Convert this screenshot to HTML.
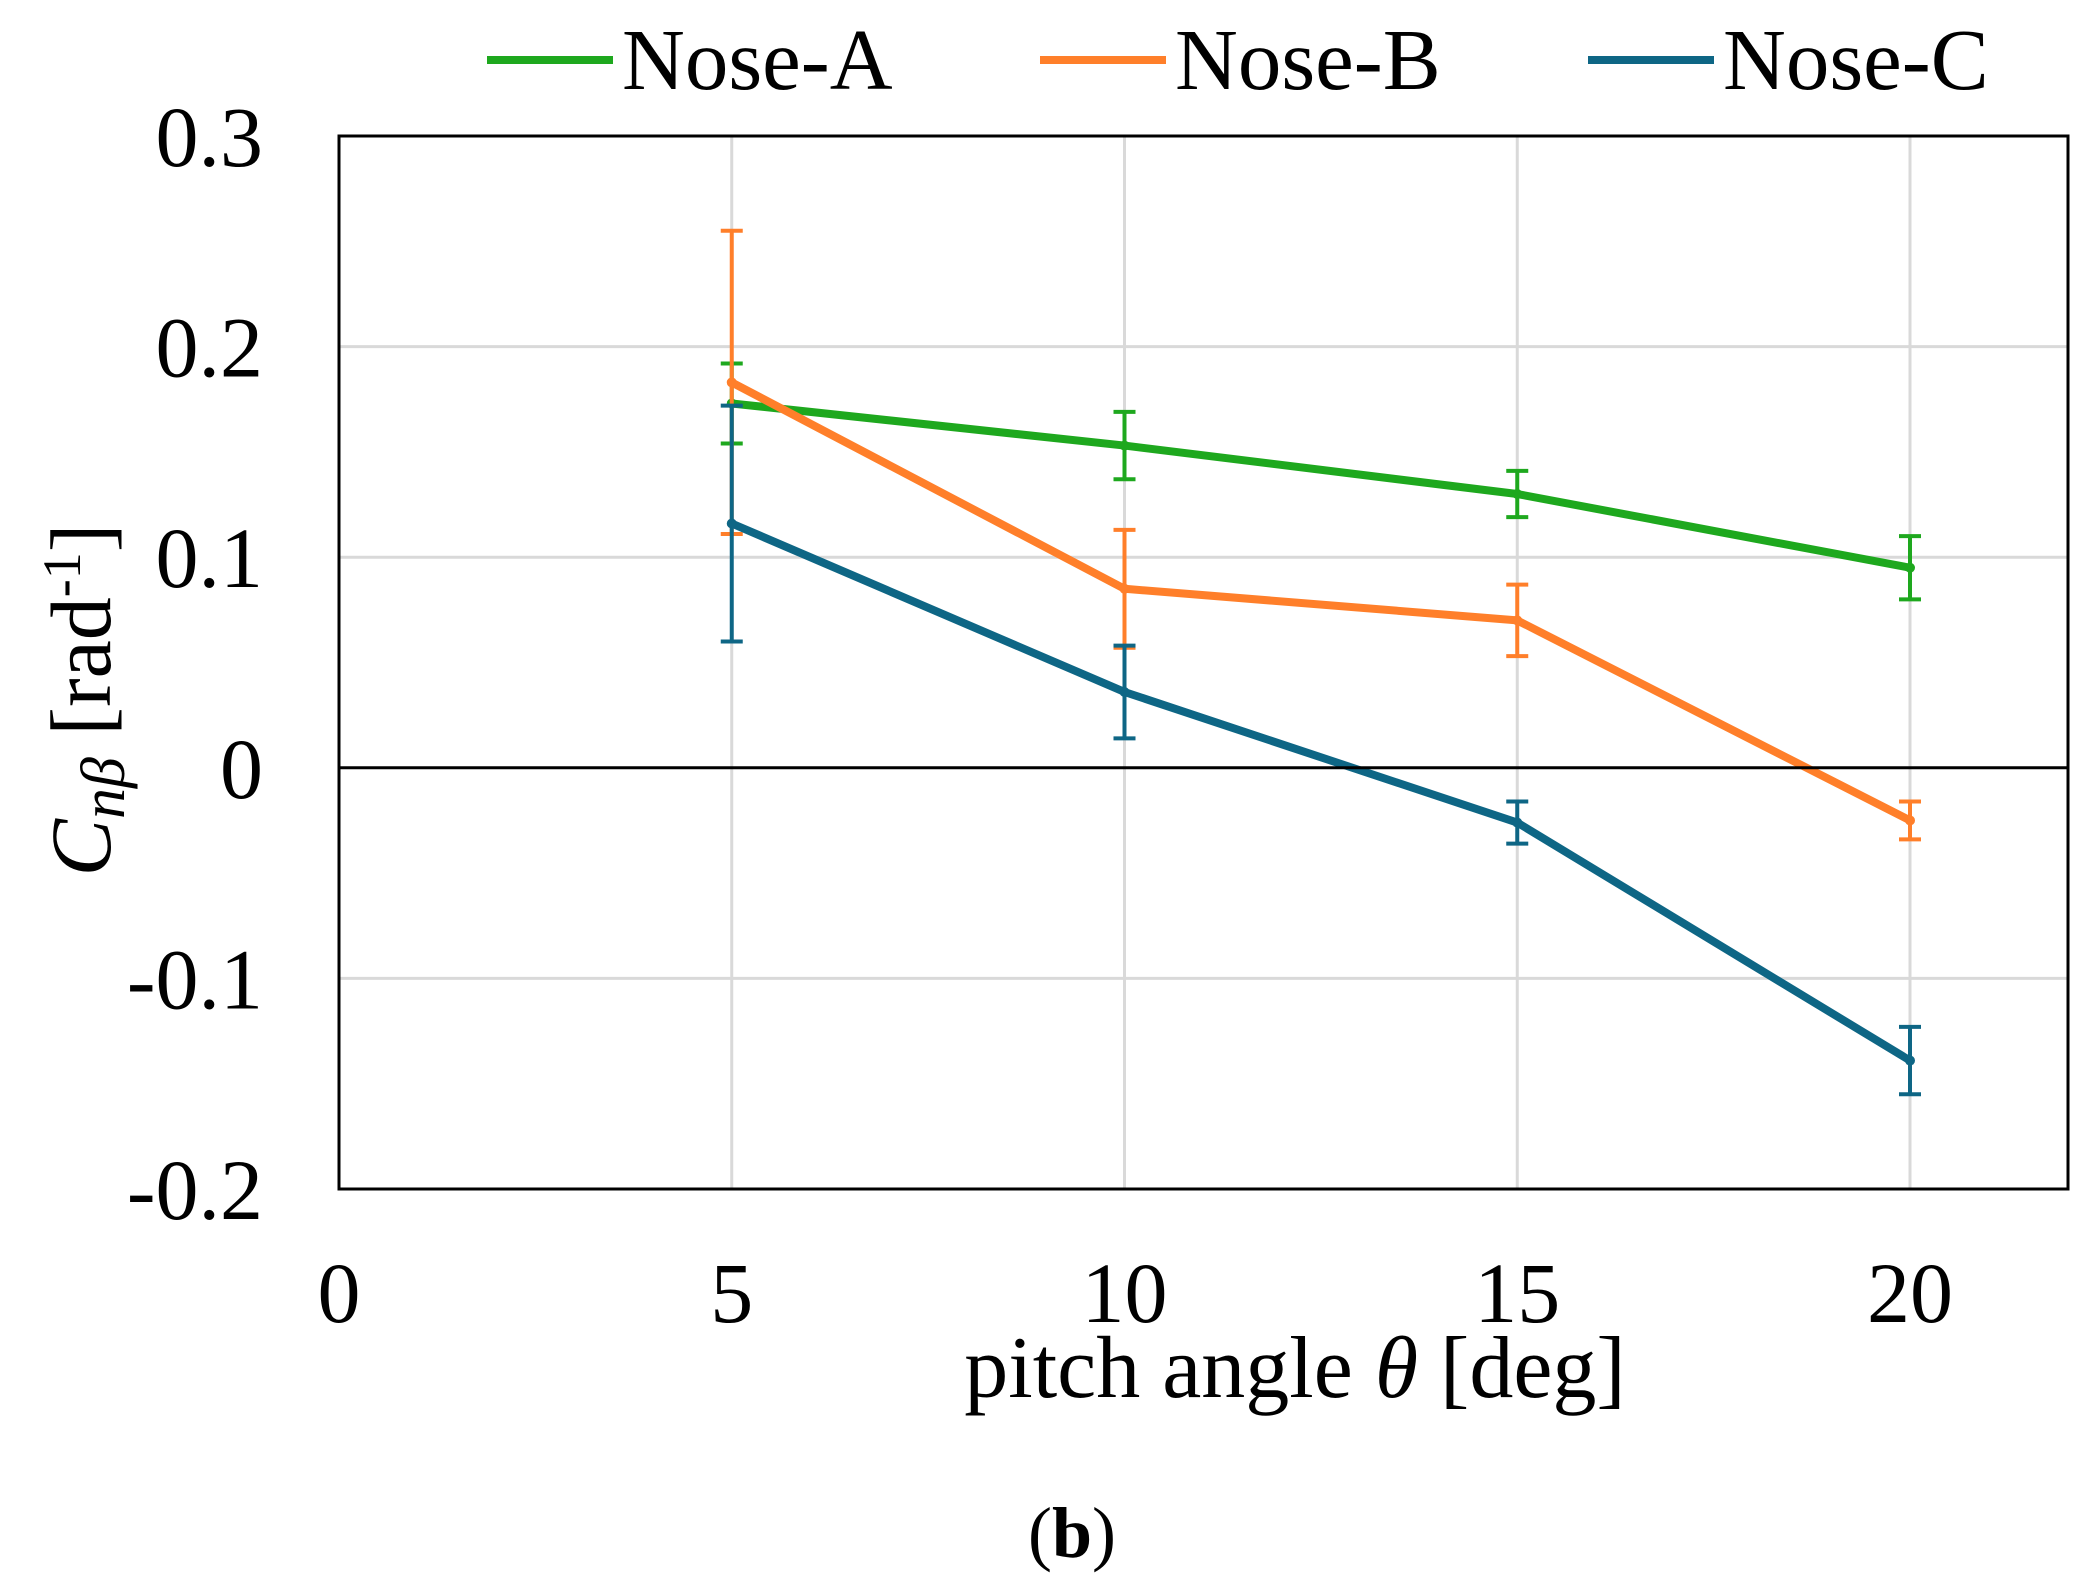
<!DOCTYPE html>
<html><head><meta charset="utf-8"><style>
html,body{margin:0;padding:0;background:#fff;}
svg{display:block;font-family:"Liberation Serif",serif;}
</style></head><body>
<svg id="chart" width="2086" height="1585" viewBox="0 0 2086 1585">
<g id="grid"></g><g id="series"></g><g id="axes"></g>
</svg>
<script>
const xCats=[5,10,15,20];
const seriesNames=["Nose-A","Nose-B","Nose-C"];
const valsA=[0.173,0.153,0.130,0.095];
const errA=[0.019,0.016,0.011,0.015];
const valsB=[0.183,0.085,0.070,-0.025];
const errB=[0.072,0.028,0.017,0.009];
const valsC=[0.116,0.036,-0.026,-0.139];
const errC=[0.056,0.022,0.010,0.016];
const xTicks=[0,5,10,15,20];
const yTicks=[0.3,0.2,0.1,0,-0.1,-0.2];
const yTickLabels=["0.3","0.2","0.1","0","-0.1","-0.2"];
const colors=["#1ea81e","#ff7f2a","#0e6685"];

const NS="http://www.w3.org/2000/svg";
const L=339,R=2068,T=136,B=1189;
const xs=v=>L+v*78.55;
const ys=v=>T+(0.3-v)/0.5*(B-T);
function mk(tag,attrs,parent){const e=document.createElementNS(NS,tag);for(const k in attrs)e.setAttribute(k,attrs[k]);parent.appendChild(e);return e;}
const grid=document.getElementById('grid'),ser=document.getElementById('series'),ax=document.getElementById('axes'),svg=document.getElementById('chart');

yTicks.forEach((v,i)=>{
 if(v!==0&&v!==0.3&&v!==-0.2){const g=mk('line',{x1:L,x2:R,y1:ys(v),y2:ys(v),stroke:'#d9d9d9','stroke-width':3},grid);
 
 }
 const t=mk('text',{x:263,y:ys(v)+30,'text-anchor':'end','font-size':86},ax);t.textContent=yTickLabels[i];
 
 
});
xCats.forEach(v=>{const g=mk('line',{x1:xs(v),x2:xs(v),y1:T,y2:B,stroke:'#d9d9d9','stroke-width':3},grid);
 
 });
xTicks.forEach(v=>{const t=mk('text',{x:xs(v),y:1322,'text-anchor':'middle','font-size':86},ax);t.textContent=String(v);
 
 });
const z=mk('line',{x1:L,x2:R,y1:ys(0),y2:ys(0),stroke:'#000','stroke-width':3},ax);


const fr=mk('rect',{x:L,y:T,width:R-L,height:B-T,fill:'none',stroke:'#000','stroke-width':3},ax);



const allV=[valsA,valsB,valsC],allE=[errA,errB,errC];
allV.forEach((vals,s)=>{
 const g=mk('g',{},ser);
 
 
 const p=mk('polyline',{points:vals.map((v,i)=>xs(xCats[i])+','+ys(v)).join(' '),fill:'none',stroke:colors[s],'stroke-width':8,'stroke-linejoin':'round'},g);
 
 
 vals.forEach((v,i)=>{
  const x=xs(xCats[i]),e=allE[s][i],y1=ys(v+e),y2=ys(v-e);
  const eb=mk('path',{d:`M${x},${y1}V${y2}M${x-11},${y1}H${x+11}M${x-11},${y2}H${x+11}`,stroke:colors[s],'stroke-width':4,fill:'none'},g);
  
  
  const c=mk('circle',{cx:x,cy:ys(v),r:5,fill:colors[s]},g);
  
  
 });
});

const legX=[487,1040,1588];
seriesNames.forEach((n,s)=>{
 const g=mk('g',{},svg);
 
 
 mk('line',{x1:legX[s],x2:legX[s]+126,y1:60,y2:60,stroke:colors[s],'stroke-width':8},g);
 const t=mk('text',{x:legX[s]+135,y:89,'font-size':87},g);t.textContent=n;
});

const xl=mk('text',{x:1295,y:1397,'text-anchor':'middle','font-size':88},svg);
xl.innerHTML='pitch angle <tspan font-style="italic">θ</tspan> [deg]';


const yl=mk('text',{x:0,y:0,'text-anchor':'middle','font-size':86,transform:'translate(110,700) rotate(-90)'},svg);
yl.innerHTML='<tspan font-style="italic">C</tspan><tspan font-style="italic" font-size="62" dy="14">nβ</tspan><tspan dy="-14">  [rad</tspan><tspan font-size="54" dy="-30">-1</tspan><tspan dy="30">]</tspan>';


const cap=mk('text',{x:1072,y:1557,'text-anchor':'middle','font-size':72},svg);
cap.innerHTML='(<tspan font-weight="bold">b</tspan>)';


</script>
</body></html>
